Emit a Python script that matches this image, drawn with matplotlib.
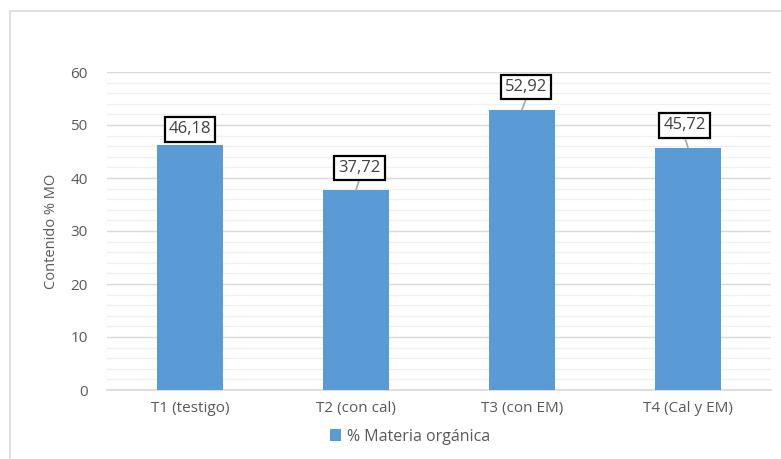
import matplotlib
matplotlib.use('agg')
import matplotlib.pyplot as plt
import numpy as np

categories = ['T1 (testigo)', 'T2 (con cal)', 'T3 (con EM)', 'T4 (Cal y EM)']
values = [46.18, 37.72, 52.92, 45.72]
value_labels = ['46,18', '37,72', '52,92', '45,72']
series_name = '% Materia orgánica'
ylabel = 'Contenido % MO'

# label box offsets (x in category units, y in data units above bar top)
label_dx = [0.0, 0.02, 0.025, -0.02]
label_dy = [3.0, 4.2, 4.2, 4.2]

plt.rcParams['font.family'] = ['Open Sans', 'DejaVu Sans']
grey = '#595959'

fig = plt.figure(figsize=(7.81, 4.59), dpi=100)
# chart frame (only left/top visible in the reference)
fig.add_artist(plt.Rectangle((10/781, -0.1), 1.0, (459-11)/459 + 0.1, transform=fig.transFigure,
                             fill=False, edgecolor='#d9d9d9', linewidth=1.2))

ax = fig.add_axes([107/781, (459-390)/459, (771-107)/781, (390-72)/459])
x = np.arange(len(categories))
bars = ax.bar(x, values, width=0.4, color='#5b9bd5', label=series_name, zorder=3)

ax.set_xlim(-0.5, len(categories) - 0.5)
ax.set_ylim(0, 60)
ax.set_yticks(np.arange(0, 61, 10))
ax.set_yticks(np.arange(0, 61, 2), minor=True)
ax.grid(axis='y', which='major', color='#d9d9d9', linewidth=1.0, zorder=0)
ax.grid(axis='y', which='minor', color='#f0f0f0', linewidth=1.0, zorder=0)
ax.tick_params(axis='y', which='both', length=0, labelsize=11, labelcolor=grey, pad=14)
ax.tick_params(axis='x', length=0, labelsize=11, labelcolor=grey, pad=8)
ax.set_xticks(x)
ax.set_xticklabels(categories)
for s in ['top', 'right', 'left']:
    ax.spines[s].set_visible(False)
ax.spines['bottom'].set_color('#d9d9d9')
ax.spines['bottom'].set_linewidth(1.2)
ax.set_ylabel(ylabel, fontsize=10.5, color=grey, labelpad=8)

for i, v in enumerate(values):
    lx = x[i] + label_dx[i]
    ly = v + label_dy[i]
    ax.text(lx, ly, value_labels[i], ha='center', va='center', fontsize=12, color='#404040',
            bbox=dict(boxstyle='square,pad=0.25', facecolor='white', edgecolor='black', linewidth=1.6),
            zorder=5)
    if label_dy[i] > 3.5:
        ax.plot([x[i], lx], [v, ly - 2.2], color='#a6a6a6', linewidth=1.2, zorder=4)

fig.legend(loc='lower center', bbox_to_anchor=(0.525, 0.0), frameon=False, fontsize=11.5,
           labelcolor=grey, handlelength=0.7, handleheight=0.7, handletextpad=0.4)

fig.savefig('out.png', dpi=100)
